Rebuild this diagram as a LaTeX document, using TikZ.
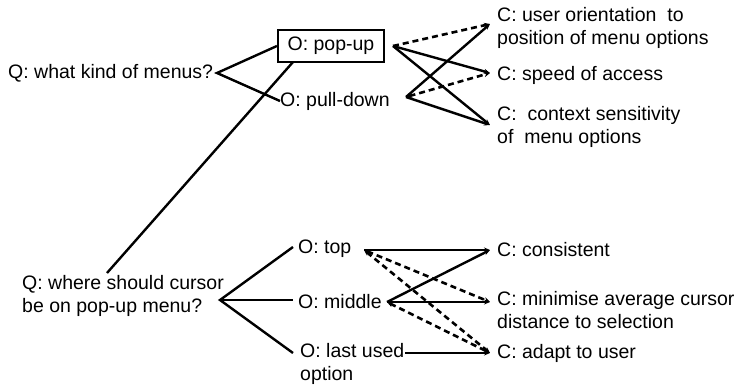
\documentclass[tikz,border=0pt]{standalone}
\usepackage{fontspec}
\setmainfont{Liberation Sans}
\usetikzlibrary{arrows.meta}
\begin{document}
\begin{tikzpicture}[x=1pt,y=-1pt,
  font=\fontsize{19.5}{23}\selectfont,
  txt/.style={inner sep=0pt, anchor=west, align=left},
  ln/.style={line width=2.4pt},
  dsh/.style={line width=2.6pt, dash pattern=on 6pt off 4pt},
  tip/.style={-{Stealth[length=6pt,width=5pt]}},
  tips/.style={{Stealth[length=6pt,width=5pt]}-{Stealth[length=6pt,width=5pt]}}]
\useasboundingbox (0,0) rectangle (736,385);
% ---------- top part ----------
\node[txt] (q1) at (8,73) {Q: what kind of menus?};
\coordinate (q1b) at (217,73);
\node[draw, line width=2.2pt, minimum width=106pt, minimum height=32pt, inner sep=0pt] (pop) at (331,46) {O: pop-up};
\node[txt] (pull) at (280,101) {O: pull-down};
\coordinate (popR) at (393,46);
\coordinate (pullR) at (406,97);
\coordinate (popB) at (293,62);
\node[txt] (c1) at (497,28) {C: user orientation\ \ to\\position of menu options};
\node[txt] (c2) at (497,75) {C: speed of access};
\node[txt] (c3) at (497,127) {C:\ \ context sensitivity\\of\ \ menu options};
\coordinate (c1a) at (490,24);
\coordinate (c2a) at (490,73);
\coordinate (c3a) at (490,125);
\draw[ln] (pop.west) -- (q1b) -- (pull.west);
\draw[dsh,tip] (popR) -- (c1a);
\draw[ln,tip] (popR) -- (c2a);
\draw[ln,tip] (popR) -- (c3a);
\draw[ln,tip] (pullR) -- (c1a);
\draw[dsh,tips] (pullR) -- (c2a);
\draw[ln,tip] (pullR) -- (c3a);
% ---------- bottom part ----------
\node[txt] (q2) at (22,296) {Q: where should cursor\\be on pop-up menu?};
\coordinate (q2t) at (107,273);
\coordinate (q2b) at (220,300);
\draw[ln] (popB) -- (q2t);
\node[txt] (top) at (298,249) {O: top};
\node[txt] (mid) at (298,302) {O: middle};
\node[txt] (last) at (300,364) {O: last used\\option};
\coordinate (tL) at (293,247);
\coordinate (mL) at (293,300);
\coordinate (lL) at (293,353);
\coordinate (topR) at (364,250);
\coordinate (midR) at (387,302);
\coordinate (lastR) at (405,353);
\node[txt] (d1) at (497,250) {C: consistent};
\node[txt] (d2) at (497,310) {C: minimise average cursor\\distance to selection};
\node[txt] (d3) at (497,353) {C: adapt to user};
\coordinate (d1a) at (490,250);
\coordinate (d2a) at (490,302);
\coordinate (d3a) at (490,353);
\draw[ln] (tL) -- (q2b) -- (lL);
\draw[ln] (q2b) -- (mL);
\draw[ln,tip] (topR) -- (d1a);
\draw[ln,tip] (midR) -- (d1a);
\draw[ln,tip] (midR) -- (d2a);
\draw[dsh,tips] (topR) -- (d2a);
\draw[dsh,tips] (topR) -- (d3a);
\draw[dsh,tips] (midR) -- (d3a);
\draw[ln,tip] (lastR) -- (d3a);
\end{tikzpicture}
\end{document}
